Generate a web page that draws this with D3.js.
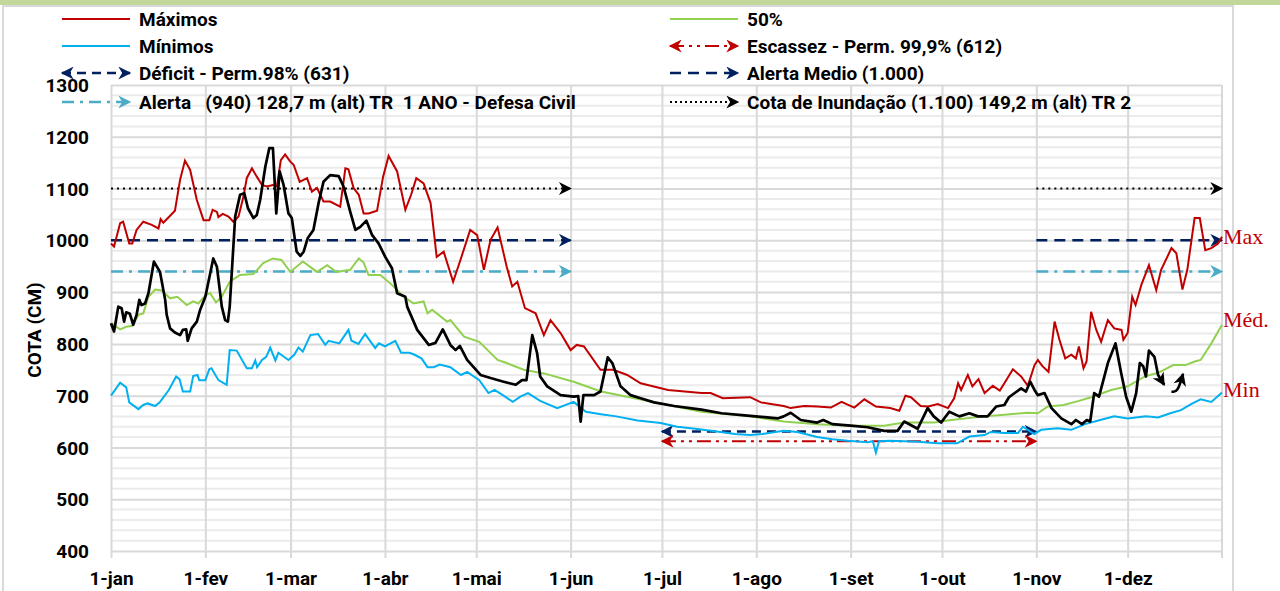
<!DOCTYPE html>
<html>
<head>
<meta charset="utf-8">
<script src="https://cdn.jsdelivr.net/npm/d3@7"></script>
<style>
  body { margin: 0; background: #fff; }
  svg text { font-family: Roboto, "Liberation Sans", sans-serif; font-weight: bold; fill: #000; }
</style>
</head>
<body>
<div id="chart"></div>
<script>
// series as [day of year, cota (cm)]
var maximos = [[0,994],[1,988],[3,1033],[4,1036],[6,994],[7,994],[8.4,1020],[10.6,1036],[13.4,1030],[15.6,1023],[16.3,1041],[17.2,1034],[21,1057],[22.7,1117],[24.3,1154],[26,1136],[28.2,1078],[30.4,1039],[32.3,1039],[33.4,1059],[34.8,1055],[35.3,1045],[36.7,1051],[38.6,1046],[40.2,1036],[41.9,1046],[43.5,1084],[44.6,1120],[46.3,1139],[47.9,1123],[49.6,1107],[51.2,1104],[53.2,1107],[54.5,1104],[55.8,1155],[57.2,1166],[58.9,1152],[60,1146],[62,1113],[64.4,1120],[66,1094],[67.7,1101],[69.8,1075],[72,1075],[75.3,1065],[77,1139],[78,1137],[79.7,1101],[81.4,1088],[83,1052],[84.6,1052],[87.4,1057],[89.4,1123],[91.2,1163],[94,1133],[96.7,1059],[98.6,1088],[100.3,1120],[102.7,1110],[105,1072],[107,968],[109.3,978],[112.4,920],[114.8,962],[118,1020],[120.3,1010],[122.5,943],[124.7,1001],[127,1025],[130,949],[131.8,911],[133.5,920],[136,869],[139.5,859],[142.2,817],[144.4,846],[147.7,821],[151,788],[153,798],[155.4,795],[160.8,750],[165,750],[169.6,740],[174,724],[183,711],[194,705],[197,705],[201,695],[210,697],[213.5,687],[216.8,684],[221,680],[223.3,676],[227.7,680],[232,679],[236.5,677],[240,688],[244.2,677],[247.5,693],[251.3,679],[256,676],[259,671],[261,700],[262.8,697],[266,680],[268.5,679],[271.6,684],[275,676],[277,695],[278.3,724],[279.3,711],[281.5,740],[283,718],[285,732],[287,705],[289.7,719],[292,710],[293.5,724],[296.3,751],[299,737],[301.2,719],[303.4,759],[304.5,769],[306,757],[308,746],[310,843],[311.6,808],[313.5,772],[315.5,779],[317,772],[318,795],[319.5,753],[320.5,766],[322,862],[323.7,827],[325.3,804],[327.5,846],[329.6,830],[332,827],[332.6,808],[334,821],[335.5,891],[336.6,875],[338.5,914],[341,952],[343.4,904],[345,943],[348.4,985],[350,975],[352,905],[353.6,943],[356,1043],[357.7,1043],[359.5,981],[361.5,985],[363.7,994],[365,1007]];

var minimos = [[0,700],[3,725],[5,716],[6,687],[9,674],[10.6,682],[12,685],[14.5,680],[16,687],[19,711],[21.4,737],[22.5,732],[23.6,708],[26,708],[27,738],[28.4,740],[29,730],[31,730],[32.3,751],[33,753],[35.3,730],[38,721],[39,788],[41.3,787],[44.6,753],[46.3,753],[47.4,768],[48,755],[49.6,769],[51,775],[52.3,793],[54,768],[55,783],[58.3,769],[60.2,779],[61.6,793],[63,785],[65.5,817],[68,819],[70.4,798],[71.5,806],[75,801],[78,827],[79,806],[81.3,800],[83.5,819],[86.8,792],[88,801],[90,795],[93.4,806],[95.3,783],[98,783],[99.4,780],[102,772],[104,755],[106,755],[108,760],[111.5,755],[115,740],[117,746],[121,730],[124,705],[126,711],[129,700],[132,688],[134.5,698],[137,705],[141,690],[146.6,676],[152,688],[156,669],[161,664],[166,660],[173,652],[180.6,647],[186,640],[192,636],[199,631],[205,626],[210,624],[214,626],[221,632],[225.5,630],[232,620],[237,616],[242,613],[248.6,610],[250.3,612],[251.3,590],[252.3,612],[256,613],[265,611],[271.6,608],[278,608],[282,621],[287,624],[289,630],[293.5,628],[298,628],[299.6,640],[303.3,626],[305.6,634],[311,637],[315.5,634],[320,645],[325,653],[329.6,660],[334,656],[340,660],[344,658],[348,666],[351.5,672],[355,684],[358,693],[361.5,688],[365,706]];

var mediana = [[0,840],[3,828],[5,833],[7,835],[9,856],[10.6,859],[12.3,891],[14.5,905],[16.7,903],[19.4,888],[21.8,891],[24.9,875],[27,882],[28.7,878],[31,894],[32.6,898],[34.5,880],[36.4,891],[39,920],[42.4,933],[46.8,935],[50,956],[53.2,965],[56,962],[58.9,939],[63,959],[67.7,939],[71,952],[74,939],[78.6,943],[81.4,965],[83,957],[84.6,933],[88.5,933],[92.3,914],[95.6,894],[99.4,878],[102.7,882],[104,859],[105.5,866],[110.4,843],[111.5,846],[116,814],[121,804],[127,769],[130,763],[135.6,750],[142.2,743],[152,727],[161,708],[172,695],[183,682],[194,669],[210,660],[221,650],[232,645],[243,642],[254,642],[260.6,648],[270.5,648],[276,653],[287,660],[293.5,663],[301,667],[304.5,666],[307.8,679],[313,682],[318,690],[322,697],[328.6,711],[334,718],[340,738],[344,744],[349,759],[353,759],[356,766],[358,769],[361.5,801],[365,837]];

var atual = [[0,840],[1,824],[2.4,872],[3.5,869],[4.3,843],[5,861],[6.2,858],[7.3,837],[8.4,856],[9.3,885],[10,875],[11.2,878],[12.3,898],[14.1,959],[16.1,939],[17.8,885],[18.3,856],[19.4,830],[21,822],[22.7,817],[23.6,827],[24.7,828],[25.2,806],[26.5,830],[28.2,843],[29.3,866],[31,891],[33.6,965],[34.8,949],[36.4,872],[37.5,846],[38.4,843],[39,872],[40.8,1046],[42.4,1088],[43.8,1091],[45,1062],[46.8,1043],[47.9,1049],[49,1078],[50.7,1142],[52,1178],[53.2,1178],[54.3,1052],[55.4,1133],[56.7,1107],[58.3,1052],[59.4,1043],[61,978],[62.2,970],[63.3,978],[64.6,1004],[66.5,1020],[68.2,1072],[69.8,1113],[72,1126],[74.8,1124],[76.4,1104],[78.6,1055],[80.3,1020],[81.9,1026],[83.9,1038],[85.8,1010],[87.9,994],[90.1,968],[92.3,946],[94,898],[96.7,891],[97.3,872],[100.6,827],[104.4,798],[106.6,802],[109,828],[111.5,798],[113.2,788],[114.6,796],[117,769],[121.4,740],[124.7,734],[129,727],[133,721],[135,730],[136.5,730],[138.4,817],[140,782],[141,737],[143.3,718],[147.7,701],[152,698],[153.5,699],[154.3,650],[155.2,701],[158.7,701],[160.8,708],[163.2,774],[164.7,763],[167.4,718],[170.7,701],[174,695],[178.4,687],[185,680],[194,673],[200.6,666],[210,661],[219,656],[221,660],[223.3,667],[226.6,653],[232,648],[234,653],[237,645],[243,642],[248.6,639],[254,632],[258.4,632],[260.6,650],[265,636],[268.3,676],[270.3,660],[272.7,648],[275.4,669],[278.7,660],[282,666],[284.8,660],[288,660],[290.8,679],[293.5,682],[295,697],[299,714],[300.6,708],[302,727],[303.4,711],[304.5,701],[306.7,705],[309,676],[312.2,656],[315.5,645],[317,653],[319,645],[320.6,653],[321.7,650],[323,705],[324.6,698],[327.5,763],[330,801],[331.9,743],[333.5,698],[335.2,669],[336.8,705],[338,763],[339.1,757],[340,737],[341,787],[342.8,775],[344,740],[346,721]];

// small hooked arrow after the current-year line
var gancho = [[348.4,708],[350.4,706],[352.2,742]];

var monthLabels = ['1-jan','1-fev','1-mar','1-abr','1-mai','1-jun','1-jul','1-ago','1-set','1-out','1-nov','1-dez'];

// reference levels (cm) and the day ranges where they are drawn
var cheiaDias = [[0,151],[304,365]];
var secaDias = [[181,304]];
var cotaInundacao = 1100, alertaMedio = 1000, alertaDC = 940, deficit = 631, escassez = 612;

var endLabels = ['Max','Méd.','Min'];
var endLabelCota = [993, 832, 698];

var width = 1280, height = 591;
var pLeft = 111, pRight = 1222, pTop = 85, pBottom = 551;

var base = Date.UTC(2021, 0, 1);
function dia(d) { return new Date(base + d * 864e5); }

var x = d3.scaleUtc().domain([dia(0), dia(365)]).range([pLeft, pRight]);
var y = d3.scaleLinear().domain([400, 1300]).range([pBottom, pTop]);

var svg = d3.select('#chart').append('svg')
  .attr('width', width).attr('height', height);

// markers
var defs = svg.append('defs');
function marker(id, color) {
  defs.append('marker')
    .attr('id', id)
    .attr('viewBox', '0 0 10 10')
    .attr('refX', 9).attr('refY', 5)
    .attr('markerUnits', 'userSpaceOnUse')
    .attr('markerWidth', 14).attr('markerHeight', 13)
    .attr('orient', 'auto-start-reverse')
    .append('path')
    .attr('d', 'M0,0 L10,5 L0,10 L3,5 Z')
    .attr('fill', color);
}
marker('arNavy', '#002060');
marker('arBlue', '#4bacc6');
marker('arBlack', '#000');
marker('arRed', '#c00000');

// frame
svg.append('rect').attr('x', 0).attr('y', 0).attr('width', width).attr('height', 5).attr('fill', '#c4d79b');
svg.append('path').attr('d', 'M3,591 L3,6 L1233,6 L1233,591')
  .attr('fill', 'none').attr('stroke', '#d9d9d9').attr('stroke-width', 2);

// grid
var minor = d3.range(420, 1300, 20).filter(function(v) { return v % 100 != 0; });
svg.append('g').selectAll('line').data(minor).enter().append('line')
  .attr('x1', pLeft).attr('x2', pRight)
  .attr('y1', function(d) { return y(d); }).attr('y2', function(d) { return y(d); })
  .attr('stroke', '#ebebeb').attr('stroke-width', 2);

var yAxis = d3.axisLeft(y).tickValues(d3.range(400, 1301, 100))
  .tickFormat(d3.format('d'))
  .tickSize(-(pRight - pLeft)).tickPadding(22);
var gy = svg.append('g').attr('transform', 'translate(' + pLeft + ',0)').call(yAxis);
gy.select('.domain').remove();
gy.selectAll('line').attr('stroke', '#d9d9d9').attr('stroke-width', 2);
gy.selectAll('text').style('font-size', '19px').attr('dy', '0.35em');

var months = d3.utcMonths(dia(0), dia(365));
var xAxis = d3.axisBottom(x).tickValues(months)
  .tickFormat(function(d, i) { return monthLabels[i]; })
  .tickSize(0).tickPadding(0);
var gx = svg.append('g').attr('transform', 'translate(0,' + pBottom + ')').call(xAxis);
gx.select('.domain').remove();
gx.selectAll('line').attr('stroke', '#d9d9d9').attr('stroke-width', 2)
  .attr('y1', -(pBottom - pTop)).attr('y2', 7);
gx.selectAll('text').style('font-size', '19px').attr('y', 34).attr('dy', 0);
svg.append('line').attr('x1', pRight).attr('x2', pRight).attr('y1', pTop).attr('y2', pBottom + 7)
  .attr('stroke', '#d9d9d9').attr('stroke-width', 2);

// axis title
svg.append('text')
  .attr('transform', 'translate(41,' + ((pTop + pBottom) / 2 + 12) + ') rotate(-90)')
  .attr('text-anchor', 'middle')
  .style('font-size', '19px')
  .text('COTA (CM)');

// reference lines
function refLine(level, ranges, color, dash, w, mk, both) {
  ranges.forEach(function(r) {
    var l = svg.append('line')
      .attr('x1', x(dia(r[0]))).attr('x2', x(dia(r[1])))
      .attr('y1', y(level)).attr('y2', y(level))
      .attr('stroke', color).attr('stroke-width', w)
      .attr('stroke-dasharray', dash)
      .attr('marker-end', 'url(#' + mk + ')');
    if (both) l.attr('marker-start', 'url(#' + mk + ')');
  });
}
refLine(cotaInundacao, cheiaDias, '#000', '2,4', 2, 'arBlack', false);
refLine(alertaMedio, cheiaDias, '#002060', '11,7', 2.5, 'arNavy', false);
refLine(alertaDC, cheiaDias, '#4bacc6', '12,6,3,6', 2.5, 'arBlue', false);
refLine(deficit, secaDias, '#002060', '9,6', 2.5, 'arNavy', true);
refLine(escassez, secaDias, '#c00000', '14,5,3,5,3,5', 2, 'arRed', true);

// series
var line = d3.line()
  .x(function(d) { return x(dia(d[0])); })
  .y(function(d) { return y(d[1]); });

svg.append('path').datum(minimos).attr('d', line)
  .attr('fill', 'none').attr('stroke', '#00b0f0').attr('stroke-width', 2);
svg.append('path').datum(mediana).attr('d', line)
  .attr('fill', 'none').attr('stroke', '#92d050').attr('stroke-width', 2);
svg.append('path').datum(maximos).attr('d', line)
  .attr('fill', 'none').attr('stroke', '#c00000').attr('stroke-width', 2);
svg.append('path').datum(atual).attr('d', line)
  .attr('fill', 'none').attr('stroke', '#000').attr('stroke-width', 2.7)
  .attr('stroke-linejoin', 'round')
  .attr('marker-end', 'url(#arBlack)');
svg.append('path').datum(gancho).attr('d', d3.line().curve(d3.curveBasis)
    .x(function(d) { return x(dia(d[0])); })
    .y(function(d) { return y(d[1]); }))
  .attr('fill', 'none').attr('stroke', '#000').attr('stroke-width', 2.6)
  .attr('marker-end', 'url(#arBlack)');

// end labels
svg.selectAll('.endlab').data(endLabels).enter().append('text')
  .attr('class', 'endlab')
  .attr('x', pRight + 1)
  .attr('y', function(d, i) { return y(endLabelCota[i]); })
  .style('font-family', '"Liberation Serif", "Times New Roman", serif')
  .style('font-weight', 'normal')
  .style('font-size', '22px')
  .style('fill', '#c00000')
  .text(function(d) { return d; });

// legend
var legend = [
  {t: 'Máximos', c: '#c00000', dash: null, w: 2, col: 0, row: 0},
  {t: 'Mínimos', c: '#00b0f0', dash: null, w: 2, col: 0, row: 1},
  {t: 'Déficit - Perm.98% (631)', c: '#002060', dash: '9,6', w: 2.5, mk: 'arNavy', both: true, col: 0, row: 2},
  {t: 'Alerta   (940) 128,7 m (alt) TR  1 ANO - Defesa Civil', c: '#4bacc6', dash: '12,6,3,6', w: 2.5, mk: 'arBlue', col: 0, row: 3},
  {t: '50%', c: '#92d050', dash: null, w: 2, col: 1, row: 0},
  {t: 'Escassez - Perm. 99,9% (612)', c: '#c00000', dash: '14,5,3,5,3,5', w: 2, mk: 'arRed', both: true, col: 1, row: 1},
  {t: 'Alerta Medio (1.000)', c: '#002060', dash: '11,7', w: 2.5, mk: 'arNavy', col: 1, row: 2},
  {t: 'Cota de Inundação (1.100) 149,2 m (alt) TR 2', c: '#000', dash: '2,3', w: 2, mk: 'arBlack', col: 1, row: 3}
];
var rowY = [19, 46, 73, 102];
var colX = [62, 670];

var lg = svg.append('g').selectAll('g').data(legend).enter().append('g')
  .attr('transform', function(d) { return 'translate(' + colX[d.col] + ',' + rowY[d.row] + ')'; });
lg.append('line')
  .attr('x1', 0).attr('x2', 68).attr('y1', 0).attr('y2', 0)
  .attr('stroke', function(d) { return d.c; })
  .attr('stroke-width', function(d) { return d.w; })
  .attr('stroke-dasharray', function(d) { return d.dash; })
  .attr('marker-end', function(d) { return d.mk ? 'url(#' + d.mk + ')' : null; })
  .attr('marker-start', function(d) { return d.both ? 'url(#' + d.mk + ')' : null; });
lg.append('text')
  .attr('x', 77).attr('y', 0).attr('dy', '0.35em')
  .style('font-size', '19px')
  .style('white-space', 'pre')
  .text(function(d) { return d.t; });
</script>
</body>
</html>
